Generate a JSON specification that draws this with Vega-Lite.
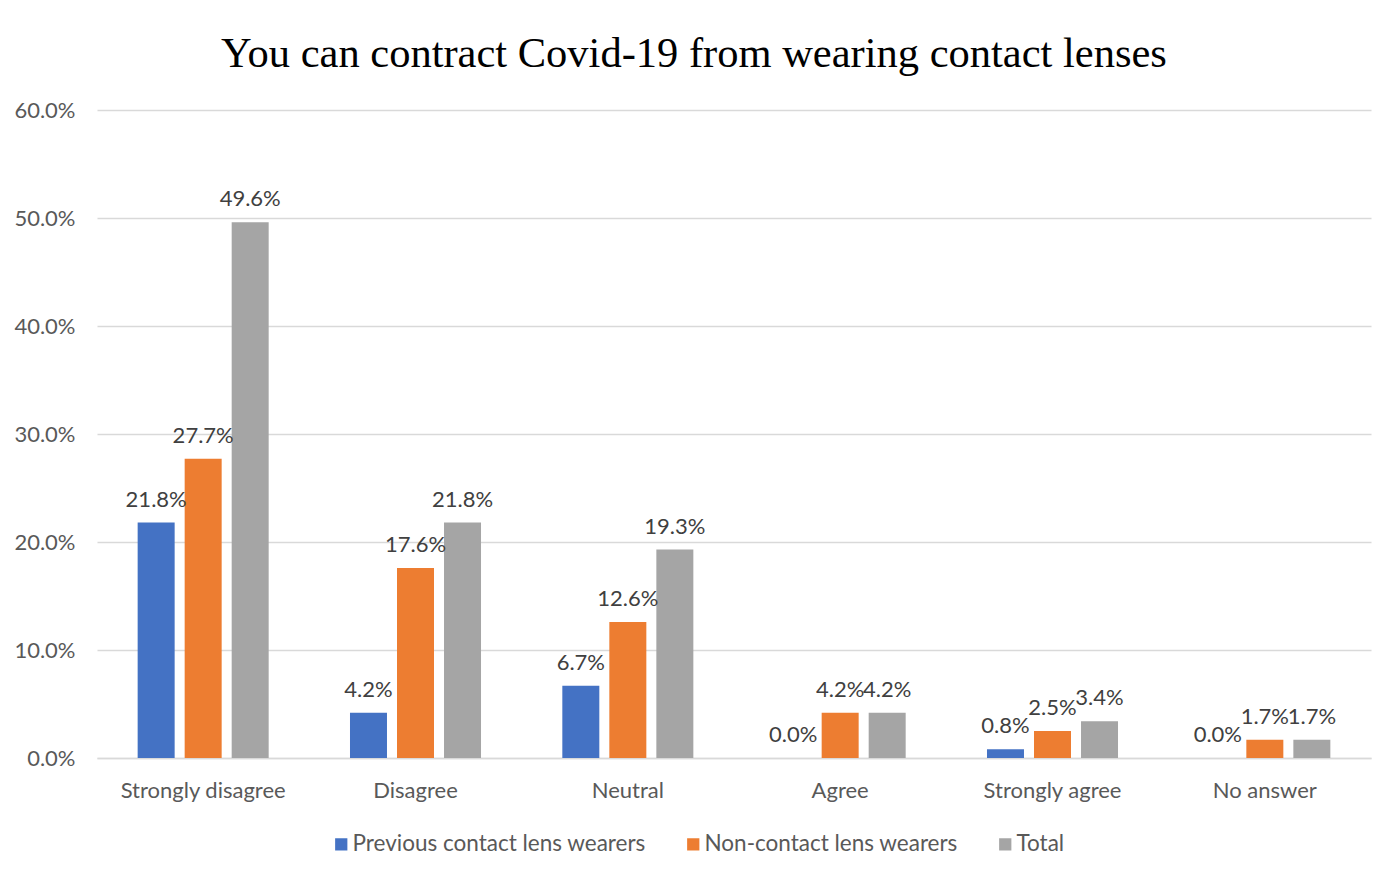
{
  "$schema": "https://vega.github.io/schema/vega-lite/v6.json",
  "width": 1274,
  "height": 648,
  "autosize": {"type": "none"},
  "padding": {"left": 97, "right": 17, "top": 110, "bottom": 118},
  "background": "white",
  "title": {
    "text": "You can contract Covid-19 from wearing contact lenses",
    "font": "Liberation Serif",
    "fontSize": 42.5,
    "fontWeight": "normal",
    "color": "#000000",
    "anchor": "middle",
    "frame": "group",
    "dx": -40,
    "offset": 24
  },
  "data": {
    "values": [
      {"response": "Strongly disagree", "group": "Previous contact lens wearers", "value": 0.218},
      {"response": "Strongly disagree", "group": "Non-contact lens wearers", "value": 0.277},
      {"response": "Strongly disagree", "group": "Total", "value": 0.496},
      {"response": "Disagree", "group": "Previous contact lens wearers", "value": 0.042},
      {"response": "Disagree", "group": "Non-contact lens wearers", "value": 0.176},
      {"response": "Disagree", "group": "Total", "value": 0.218},
      {"response": "Neutral", "group": "Previous contact lens wearers", "value": 0.067},
      {"response": "Neutral", "group": "Non-contact lens wearers", "value": 0.126},
      {"response": "Neutral", "group": "Total", "value": 0.193},
      {"response": "Agree", "group": "Previous contact lens wearers", "value": 0.0},
      {"response": "Agree", "group": "Non-contact lens wearers", "value": 0.042},
      {"response": "Agree", "group": "Total", "value": 0.042},
      {"response": "Strongly agree", "group": "Previous contact lens wearers", "value": 0.008},
      {"response": "Strongly agree", "group": "Non-contact lens wearers", "value": 0.025},
      {"response": "Strongly agree", "group": "Total", "value": 0.034},
      {"response": "No answer", "group": "Previous contact lens wearers", "value": 0.0},
      {"response": "No answer", "group": "Non-contact lens wearers", "value": 0.017},
      {"response": "No answer", "group": "Total", "value": 0.017}
    ]
  },
  "encoding": {
    "x": {
      "field": "response",
      "type": "nominal",
      "sort": ["Strongly disagree", "Disagree", "Neutral", "Agree", "Strongly agree", "No answer"],
      "scale": {"paddingInner": 0.336, "paddingOuter": 0.168},
      "axis": {
        "title": null,
        "labelAngle": 0,
        "labelFont": "Lato",
        "labelFontSize": 22,
        "labelColor": "#595959",
        "labelPadding": 22,
        "ticks": false,
        "domainColor": "#D9D9D9",
        "domainWidth": 1.5
      }
    },
    "xOffset": {
      "field": "group",
      "type": "nominal",
      "sort": ["Previous contact lens wearers", "Non-contact lens wearers", "Total"],
      "scale": {"paddingInner": 0.213, "paddingOuter": 0.106}
    },
    "y": {
      "field": "value",
      "type": "quantitative",
      "scale": {"domain": [0, 0.6], "nice": false},
      "axis": {
        "title": null,
        "format": ".1%",
        "values": [0, 0.1, 0.2, 0.3, 0.4, 0.5, 0.6],
        "labelFont": "Lato",
        "labelFontSize": 22,
        "labelColor": "#595959",
        "labelPadding": 22,
        "ticks": false,
        "domain": false,
        "gridColor": "#D9D9D9",
        "gridWidth": 1.5
      }
    }
  },
  "layer": [
    {
      "mark": {"type": "bar"},
      "encoding": {
        "color": {
          "field": "group",
          "type": "nominal",
          "sort": ["Previous contact lens wearers", "Non-contact lens wearers", "Total"],
          "scale": {
            "domain": ["Previous contact lens wearers", "Non-contact lens wearers", "Total"],
            "range": ["#4472C4", "#ED7D31", "#A5A5A5"]
          },
          "legend": {
            "title": null,
            "orient": "none",
            "legendX": 233,
            "legendY": 723,
            "direction": "horizontal",
            "symbolType": "square",
            "symbolSize": 150,
            "symbolStrokeWidth": 0,
            "labelFont": "Lato",
            "labelFontSize": 22.5,
            "labelColor": "#595959",
            "labelLimit": 0,
            "columnPadding": 36,
            "labelOffset": 0
          }
        }
      }
    },
    {
      "mark": {"type": "text", "baseline": "bottom", "dy": -11, "font": "Lato", "fontSize": 22, "color": "#404040"},
      "encoding": {
        "text": {"field": "value", "type": "quantitative", "format": ".1%"}
      }
    }
  ],
  "config": {
    "view": {"stroke": null}
  }
}
